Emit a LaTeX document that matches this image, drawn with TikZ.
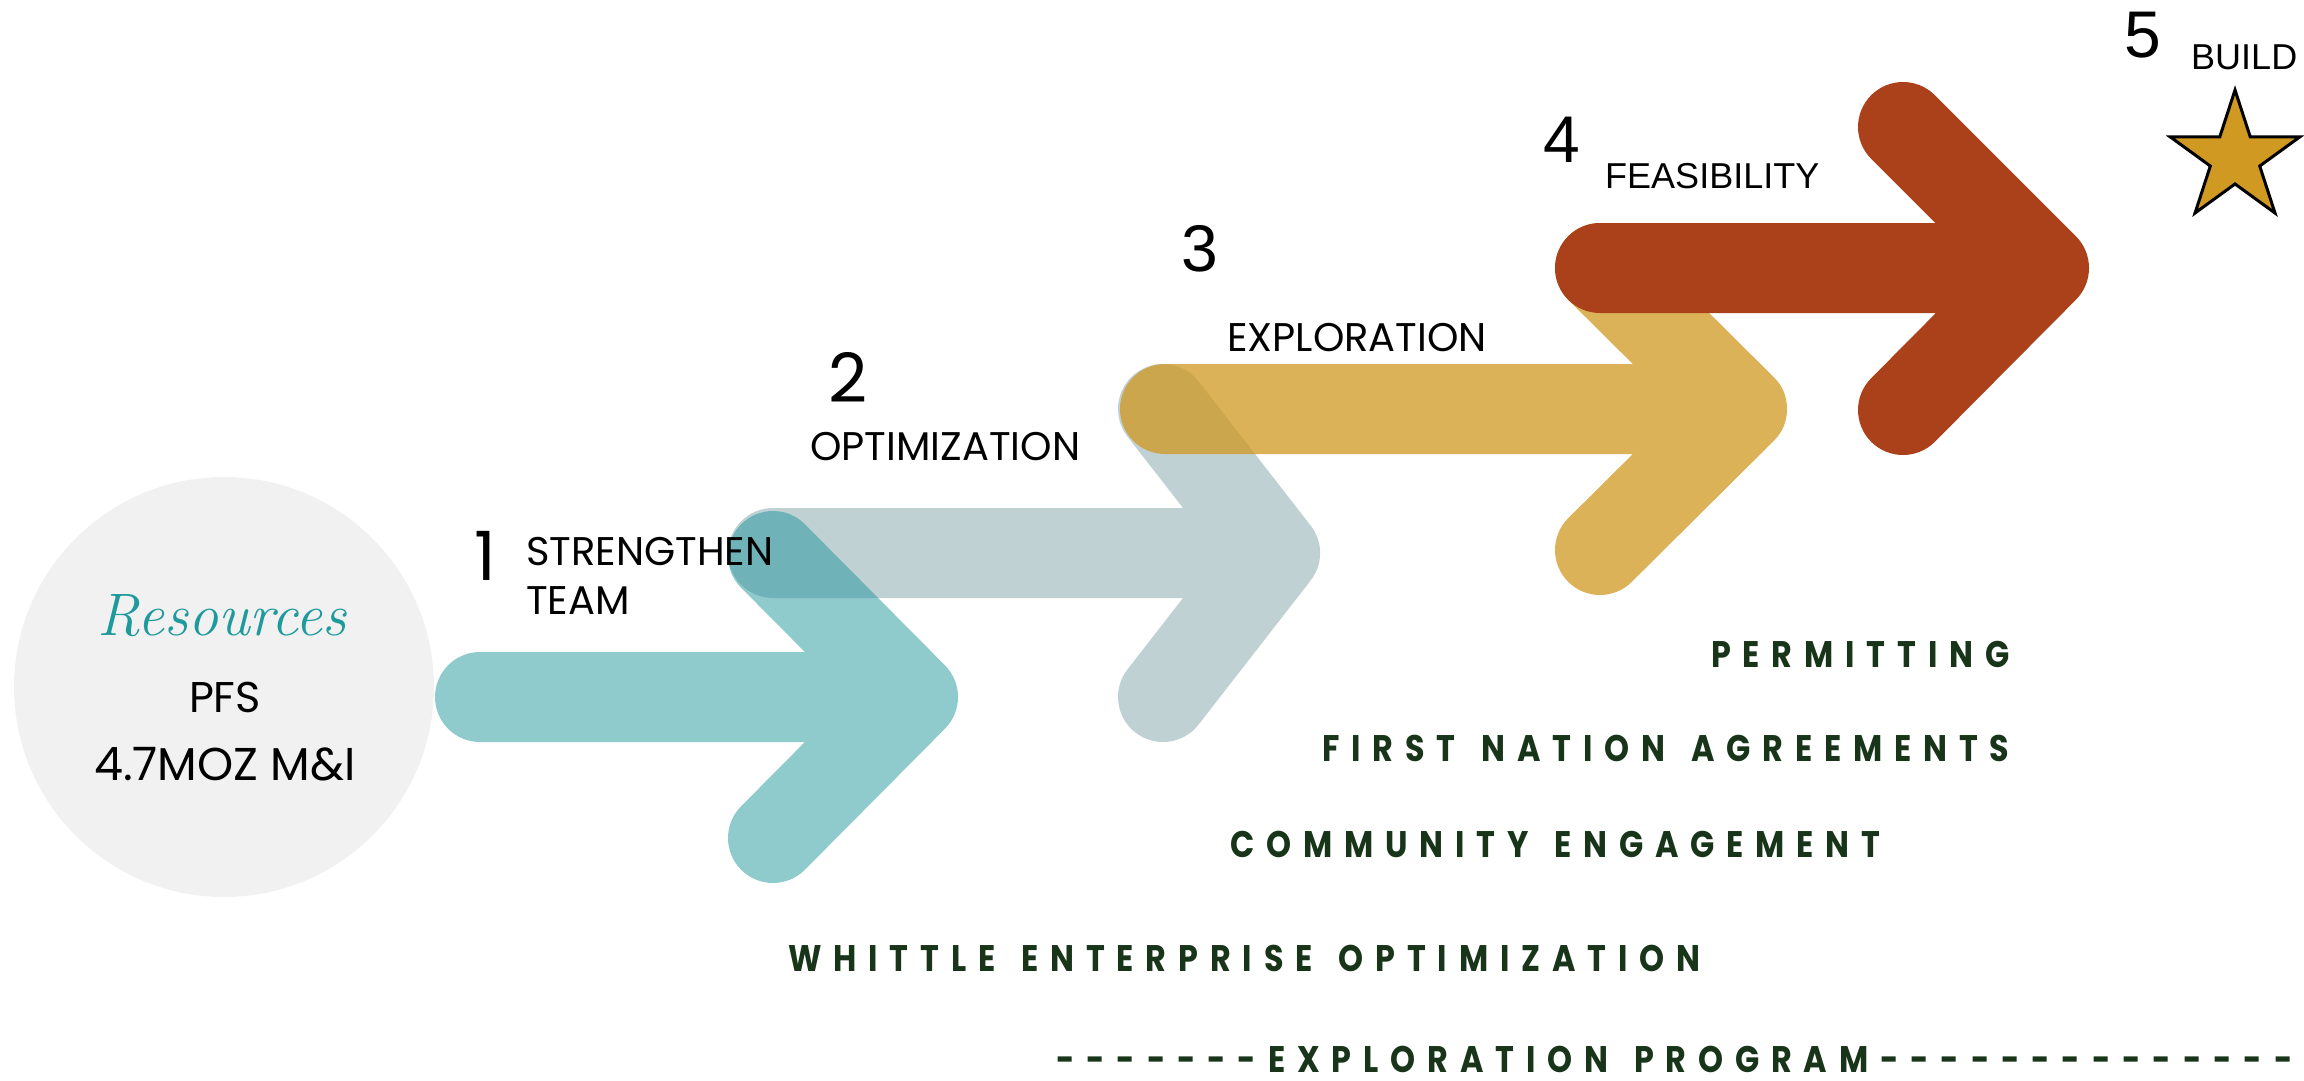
\documentclass[tikz,border=0pt]{standalone}
\usepackage{fontspec}
\usetikzlibrary{shapes.geometric}
\newfontfamily\pop{Poppins}
\newfontfamily\ari{Liberation Sans}
\newfontfamily\lbl[LetterSpace=32,WordSpace=1.4,FakeStretch=0.86]{Poppins}
\definecolor{circc}{HTML}{F1F1F1}
\definecolor{tealc}{HTML}{1F959B}
\definecolor{grayc}{HTML}{C0D1D4}
\definecolor{goldc}{HTML}{CF981F}
\definecolor{redc}{HTML}{AA411B}
\definecolor{starc}{HTML}{D09A22}
\definecolor{rescol}{HTML}{1E9A9D}
\definecolor{lblgreen}{HTML}{183419}
\begin{document}
\begin{tikzpicture}[x=1pt,y=-1pt,
  arrowpath/.style={line width=90pt, line cap=round, line join=round},
  num/.style={font=\pop\fontsize{68}{80}\selectfont, anchor=base, inner sep=0pt},
  numa/.style={font=\ari\fontsize{66}{78}\selectfont, anchor=base, inner sep=0pt},
  stage/.style={font=\pop\fontsize{40}{48}\selectfont, anchor=base west, inner sep=0pt},
  stagea/.style={font=\ari\fontsize{36}{44}\selectfont, anchor=base west, inner sep=0pt},
  task/.style={font=\lbl\bfseries\fontsize{37}{44}\selectfont, text=lblgreen, anchor=base west, inner sep=0pt}]
\useasboundingbox (0,0) rectangle (2304,1081);
% resources circle
\node[circle, fill=circc, minimum size=420pt, inner sep=0pt] (res) at (224,687) {};
\node[font=\rmfamily\itshape\fontsize{60}{70}\selectfont, text=rescol, anchor=base, inner sep=0pt] (restxt) at (222,635) {Resources};
\node[font=\pop\fontsize{43}{50}\selectfont, anchor=base, inner sep=0pt] (pfs) at (225,712) {PFS};
\node[font=\pop\fontsize{46}{54}\selectfont, anchor=base, inner sep=0pt] (moz) at (225,780) {4.7MOZ M\&I};
% arrow coordinates
\coordinate (t0) at (480,697); \coordinate (tt) at (913,697);
\coordinate (tu) at (773,556); \coordinate (td) at (773,838);
\coordinate (g0) at (773,553); \coordinate (gt) at (1275,553);
\coordinate (gu) at (1163,409); \coordinate (gd) at (1163,697);
\coordinate (o0) at (1165,409); \coordinate (ot) at (1742,409);
\coordinate (ou) at (1600,268); \coordinate (od) at (1600,550);
\coordinate (r0) at (1600,268); \coordinate (rt) at (2044,268);
\coordinate (ru) at (1903,127); \coordinate (rd) at (1903,410);
% arrows
\draw[arrowpath, draw=grayc] (g0) -- (gt) (gu) -- (gt) -- (gd);
\draw[arrowpath, draw=tealc, draw opacity=0.5] (t0) -- (tt) (tu) -- (tt) -- (td);
\draw[arrowpath, draw=goldc, draw opacity=0.75] (o0) -- (ot) (ou) -- (ot) -- (od);
\draw[arrowpath, draw=redc] (r0) -- (rt) (ru) -- (rt) -- (rd);
% star
\node[star, star points=5, star point ratio=2.618, minimum size=136pt, inner sep=0pt, draw=black, line width=3pt, fill=starc] (star) at (2235,158) {};
% numbers and stage labels
\node[num] (n1) at (485,580) {1};
\node[stage] (s1a) at (526,565) {STRENGTHEN};
\node[stage] (s1b) at (526,614) {TEAM};
\node[num] (n2) at (848,402) {2};
\node[stage] (s2) at (810,460) {OPTIMIZATION};
\node[numa] (n3) at (1200,271) {3};
\node[stage] (s3) at (1227,351) {EXPLORATION};
\node[numa] (n4) at (1562,162) {4};
\node[stagea] (s4) at (1605,188) {FEASIBILITY};
\node[numa] (n5) at (2143,58) {5};
\node[stagea] (s5) at (2191,70) {BUILD};
% tasks
\node[task] (p1) at (1711,667) {PERMITTING};
\node[task] (p2) at (1322,761) {FIRST NATION AGREEMENTS};
\node[task] (p3) at (1230,857) {COMMUNITY ENGAGEMENT};
\node[task] (p4) at (788,971) {WHITTLE ENTERPRISE OPTIMIZATION};
\node[task] (p5) at (1056,1072) {-------EXPLORATION PROGRAM--------------};
\end{tikzpicture}
\end{document}
